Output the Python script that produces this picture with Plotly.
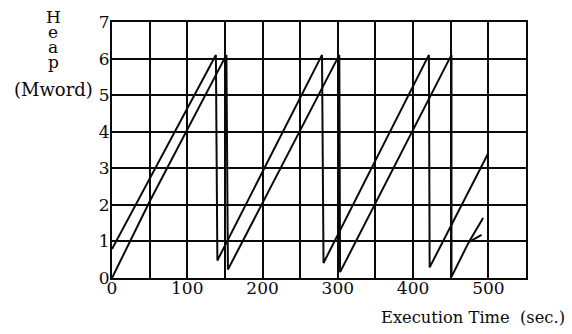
import plotly.graph_objects as go

# Heap occupancy over execution time for two runs (sawtooth = GC cycles)
run_a_time = [0, 138, 140, 279, 281, 421, 422, 500]
run_a_heap = [0.79, 6.1, 0.48, 6.1, 0.41, 6.1, 0.29, 3.42]

run_b_time = [0, 50, 152, 154, 302, 303, 451, 451, 474, 493]
run_b_heap = [0.0, 2.09, 6.1, 0.23, 6.1, 0.16, 6.1, 0.03, 0.98, 1.64]

# short branch splitting off the last rise of run B
branch_time = [474, 491]
branch_heap = [0.98, 1.18]

x_tick_values = [0, 100, 200, 300, 400, 500]
x_tick_labels = ["0", "100", "200", "300", "400", "500"]
y_tick_values = [0, 1, 2, 3, 4, 5, 6, 7]
y_tick_labels = ["0", "1", "2", "3", "4", "5", "6", "7"]

FONT = "DejaVu Serif"
INK = "#0a0a0a"

fig = go.Figure()
for t, h in [(run_a_time, run_a_heap), (run_b_time, run_b_heap), (branch_time, branch_heap)]:
    fig.add_trace(go.Scatter(x=t, y=h, mode="lines",
                             line=dict(color=INK, width=2), hoverinfo="skip"))

fig.update_layout(
    width=572, height=334,
    margin=dict(l=112, r=46, t=16, b=56),
    paper_bgcolor="white", plot_bgcolor="white",
    showlegend=False,
    font=dict(family=FONT, color=INK),
)

fig.update_xaxes(
    range=[0, 550], tickvals=x_tick_values, ticktext=x_tick_labels,
    showgrid=True, gridcolor=INK, gridwidth=1.8,
    minor=dict(dtick=50, tick0=0, showgrid=True, gridcolor=INK, gridwidth=1.8),
    showline=True, linecolor=INK, linewidth=2.2, mirror=True,
    ticks="", zeroline=False, tickfont=dict(family=FONT, size=17, color=INK),
    ticklabelstandoff=-7,
)
fig.update_yaxes(
    range=[0, 7], tickvals=y_tick_values, ticktext=y_tick_labels,
    showgrid=True, gridcolor=INK, gridwidth=1.8,
    showline=True, linecolor=INK, linewidth=2.2, mirror=True,
    ticks="", zeroline=False, tickfont=dict(family=FONT, size=17, color=INK),
    ticklabelstandoff=-3,
)

# Vertical y-axis title: stacked letters, then the unit
title_rows = [("H", 5, 17), ("e", -10, 17), ("a", -25, 17), ("p", -40, 17), ("(Mword)", -67, 18)]
for txt, dy, size in title_rows:
    fig.add_annotation(text=txt, xref="paper", yref="paper", x=0, y=1,
                       xanchor="center", yanchor="middle",
                       xshift=-59, yshift=dy, showarrow=False,
                       font=dict(family=FONT, size=size, color=INK))

fig.add_annotation(text="Execution Time\u00a0\u00a0(sec.)", xref="paper", yref="paper",
                   x=1, y=0, xanchor="right", yanchor="middle",
                   xshift=41, yshift=-39, showarrow=False,
                   font=dict(family=FONT, size=16.3, color=INK))

fig.write_html("out.html")
